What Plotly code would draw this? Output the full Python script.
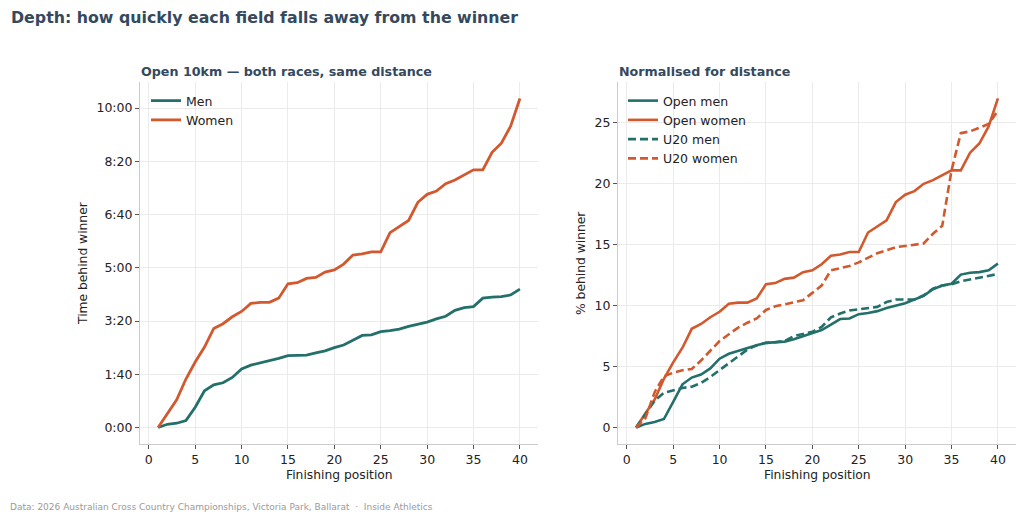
import plotly.graph_objects as go

# Finishing positions 1..40
positions = list(range(1, 41))

# Left panel: gap to winner in seconds (open 10km)
men_gap_s = [0, 6, 8, 13, 38, 69, 80, 84, 94, 110, 117, 121, 126, 130, 135, 135, 136, 140, 144, 150,
             155, 164, 173, 174, 180, 182, 185, 190, 194, 198, 204, 209, 220, 225, 227, 243, 245, 246, 249, 260]
women_gap_s = [0, 25, 52, 91, 123, 151, 186, 195, 208, 218, 233, 235, 235, 243, 270, 272, 280, 282, 292, 296,
               307, 324, 326, 330, 330, 366, 378, 389, 423, 438, 444, 458, 465, 474, 484, 484, 517, 534, 566, 618]
time_tickvals = [0, 100, 200, 300, 400, 500, 600]
time_ticktext = ["0:00", "1:40", "3:20", "5:00", "6:40", "8:20", "10:00"]

# Right panel: % behind winner
open_men_pct = [0, 0.3, 0.45, 0.7, 2.1, 3.55, 4.1, 4.35, 4.85, 5.65, 6.05, 6.3, 6.5, 6.75, 6.95, 7.0, 7.05, 7.25, 7.5, 7.8,
                8.0, 8.45, 8.9, 8.95, 9.3, 9.4, 9.55, 9.8, 10.0, 10.2, 10.5, 10.8, 11.35, 11.65, 11.8, 12.55, 12.7, 12.75, 12.9, 13.45]
open_women_pct = [0, 1.1, 2.3, 4.0, 5.35, 6.55, 8.1, 8.5, 9.05, 9.5, 10.15, 10.25, 10.25, 10.6, 11.75, 11.85, 12.2, 12.3, 12.75, 12.9,
                  13.4, 14.1, 14.2, 14.4, 14.4, 16.0, 16.5, 17.0, 18.5, 19.1, 19.4, 20.0, 20.3, 20.7, 21.1, 21.1, 22.55, 23.3, 24.7, 27.0]
u20_men_pct = [0, 1.1, 2.2, 2.85, 3.05, 3.25, 3.35, 3.65, 4.15, 4.7, 5.25, 5.8, 6.4, 6.75, 6.95, 7.0, 7.1, 7.5, 7.65, 7.85,
               8.25, 9.05, 9.35, 9.6, 9.7, 9.8, 9.9, 10.3, 10.5, 10.5, 10.5, 10.85, 11.4, 11.65, 11.75, 12.0, 12.15, 12.35, 12.5, 12.6]
u20_women_pct = [0, 0.75, 2.9, 4.2, 4.5, 4.7, 4.8, 5.5, 6.3, 7.1, 7.65, 8.2, 8.6, 8.95, 9.65, 9.95, 10.1, 10.25, 10.45, 11.05,
                 11.65, 12.9, 13.05, 13.25, 13.55, 13.9, 14.3, 14.55, 14.8, 14.9, 15.0, 15.1, 15.9, 16.55, 21.1, 24.15, 24.3, 24.6, 24.9, 26.0]

TEAL = "#23706b"
ORANGE = "#d2582e"
TITLE_COLOR = "#34495e"
TEXT_COLOR = "#222222"
FONT = "DejaVu Sans"
BASE = 12.5

# the page body has an 8px margin, so lay out in screen pixels and shift back
OFF = 8
W, H = 1024 - OFF, 520 - OFF


def px(x):
    return (x - OFF) / W


def py(y):
    return 1 - (y - OFF) / H


fig = go.Figure()

fig.add_trace(go.Scatter(x=positions, y=men_gap_s, mode="lines", name="Men",
                         line=dict(color=TEAL, width=2.8), xaxis="x", yaxis="y", legend="legend"))
fig.add_trace(go.Scatter(x=positions, y=women_gap_s, mode="lines", name="Women",
                         line=dict(color=ORANGE, width=2.8), xaxis="x", yaxis="y", legend="legend"))

fig.add_trace(go.Scatter(x=positions, y=open_men_pct, mode="lines", name="Open men",
                         line=dict(color=TEAL, width=2.6), xaxis="x2", yaxis="y2", legend="legend2"))
fig.add_trace(go.Scatter(x=positions, y=open_women_pct, mode="lines", name="Open women",
                         line=dict(color=ORANGE, width=2.6), xaxis="x2", yaxis="y2", legend="legend2"))
fig.add_trace(go.Scatter(x=positions, y=u20_men_pct, mode="lines", name="U20 men",
                         line=dict(color=TEAL, width=2.6, dash="8px,4px"), xaxis="x2", yaxis="y2", legend="legend2"))
fig.add_trace(go.Scatter(x=positions, y=u20_women_pct, mode="lines", name="U20 women",
                         line=dict(color=ORANGE, width=2.6, dash="8px,4px"), xaxis="x2", yaxis="y2", legend="legend2"))

axis_common = dict(
    showgrid=True, gridcolor="#ebebeb", gridwidth=1,
    showline=True, linecolor="#cccccc", linewidth=1,
    ticks="outside", ticklen=4, tickcolor="#555555",
    tickfont=dict(family=FONT, size=BASE, color=TEXT_COLOR),
    zeroline=False, automargin=False,
)

ydom = [py(444), py(82)]
pos_ticks = [0, 5, 10, 15, 20, 25, 30, 35, 40]
legend_font = dict(family=FONT, size=BASE, color=TEXT_COLOR)

fig.update_layout(
    width=W, height=H,
    margin=dict(l=0, r=0, t=0, b=0),
    paper_bgcolor="white", plot_bgcolor="white",
    font=dict(family=FONT, size=BASE, color=TEXT_COLOR),
    xaxis=dict(domain=[px(140), px(538)], range=[-0.95, 41.95], tickvals=pos_ticks,
               anchor="y", **axis_common),
    yaxis=dict(domain=ydom, range=[-31, 649], tickvals=time_tickvals, ticktext=time_ticktext,
               anchor="x", **axis_common),
    xaxis2=dict(domain=[px(618), px(1016)], range=[-0.95, 41.95], tickvals=pos_ticks,
                anchor="y2", **axis_common),
    yaxis2=dict(domain=ydom, range=[-1.35, 28.35], tickvals=[0, 5, 10, 15, 20, 25],
                anchor="x2", **axis_common),
    legend=dict(x=px(146), y=py(86), xanchor="left", yanchor="top", bgcolor="rgba(0,0,0,0)",
                font=legend_font, tracegroupgap=0),
    legend2=dict(x=px(623), y=py(86), xanchor="left", yanchor="top", bgcolor="rgba(0,0,0,0)",
                 font=legend_font, tracegroupgap=0),
    showlegend=True,
)

label_font = dict(family=FONT, size=12.3, color=TEXT_COLOR)
annotations = [
    dict(text="<b>Depth: how quickly each field falls away from the winner</b>", x=px(9), y=py(17),
         xanchor="left", yanchor="middle", font=dict(family=FONT, size=15.8, color=TITLE_COLOR)),
    dict(text="<b>Open 10km — both races, same distance</b>", x=px(139), y=py(71),
         xanchor="left", yanchor="middle", font=dict(family=FONT, size=12.7, color=TITLE_COLOR)),
    dict(text="<b>Normalised for distance</b>", x=px(617), y=py(71),
         xanchor="left", yanchor="middle", font=dict(family=FONT, size=12.7, color=TITLE_COLOR)),
    dict(text="Finishing position", x=px(339), y=py(475), xanchor="center", yanchor="middle", font=label_font),
    dict(text="Finishing position", x=px(817), y=py(475), xanchor="center", yanchor="middle", font=label_font),
    dict(text="Time behind winner", x=px(83), y=py(263), xanchor="center", yanchor="middle",
         textangle=-90, font=label_font),
    dict(text="% behind winner", x=px(581), y=py(263), xanchor="center", yanchor="middle",
         textangle=-90, font=label_font),
    dict(text="Data: 2026 Australian Cross Country Championships, Victoria Park, Ballarat  ·  Inside Athletics",
         x=px(8), y=py(507), xanchor="left", yanchor="middle",
         font=dict(family=FONT, size=9, color="#9a9a9a")),
]
for a in annotations:
    a.update(xref="paper", yref="paper", showarrow=False)
fig.update_layout(annotations=annotations)

fig.write_html("out.html")
